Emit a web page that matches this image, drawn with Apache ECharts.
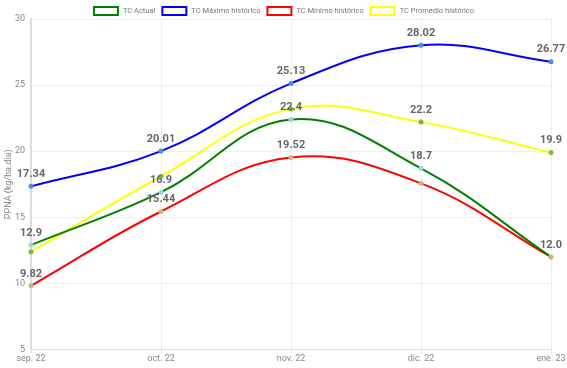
<!DOCTYPE html>
<html><head><meta charset="utf-8">
<script src="https://cdn.jsdelivr.net/npm/echarts@6/dist/echarts.min.js"></script>
<style>html,body{margin:0;padding:0;background:#fff}#c{width:567px;height:368px}</style>
</head><body><div id="c"></div>
<script>
const categories = ['sep. 22','oct. 22','nov. 22','dic. 22','ene. 23'];
const actual   = [12.9, 16.9, 22.4, 18.7, 12.0];
const maximo   = [17.34, 20.01, 25.13, 28.02, 26.77];
const minimo   = [9.82, 15.44, 19.52, 17.57, 12.0];
const promedio = [12.4, 18.1, 23.2, 22.2, 19.9];
const actualLabels   = [true, true, true, true, true];
const maximoLabels   = [true, true, true, true, true];
const minimoLabels   = [true, true, true, false, false];
const promedioLabels = [false, false, false, true, true];
const yTicks = {min: 5, max: 30, interval: 5};

const FONT = 'Roboto, "Open Sans", sans-serif';
const TENSION = 0.4;

// Curve drawn through the library's coordinate conversion (api.coord), cardinal-spline style
function curve(name, vals, lineColor, z) {
  return {
    name, type: 'custom', coordinateSystem: 'cartesian2d', z, silent: true,
    encode: {x: 0, y: 1},
    data: vals.map((v, i) => [i, v]),
    renderItem: function (params, api) {
      const i = params.dataIndex, n = vals.length;
      if (i >= n - 1) return null;
      const P = vals.map((v, k) => api.coord([k, v]));
      function cps(k) {
        const prev = P[k - 1] || P[k], cur = P[k], next = P[k + 1] || P[k];
        const d01 = Math.hypot(cur[0] - prev[0], cur[1] - prev[1]);
        const d12 = Math.hypot(next[0] - cur[0], next[1] - cur[1]);
        let s01 = d01 / (d01 + d12), s12 = d12 / (d01 + d12);
        if (isNaN(s01)) s01 = 0; if (isNaN(s12)) s12 = 0;
        const fa = TENSION * s01, fb = TENSION * s12;
        return {
          prev: [cur[0] - fa * (next[0] - prev[0]), cur[1] - fa * (next[1] - prev[1])],
          next: [cur[0] + fb * (next[0] - prev[0]), cur[1] + fb * (next[1] - prev[1])]
        };
      }
      const a = cps(i), b = cps(i + 1);
      return {
        type: 'bezierCurve',
        shape: {x1: P[i][0], y1: P[i][1], x2: P[i + 1][0], y2: P[i + 1][1],
                cpx1: a.next[0], cpy1: a.next[1], cpx2: b.prev[0], cpy2: b.prev[1]},
        style: {stroke: lineColor, lineWidth: 2, fill: null}
      };
    }
  };
}
function marks(name, vals, flags, decimals, lineColor, markerColor) {
  return {
    name, type: 'line', z: 10, symbol: 'circle', symbolSize: 5, showSymbol: true,
    lineStyle: {color: lineColor, width: 0, opacity: 0},
    itemStyle: {color: markerColor},
    data: vals.map((v, i) => ({value: v, label: {show: flags[i]}})),
    label: {
      position: 'top', distance: 4, fontFamily: FONT, fontSize: 11, fontWeight: 'bold', color: '#666',
      formatter: p => Number(p.value).toFixed(decimals)
    },
    emphasis: {disabled: true}
  };
}
const chart = echarts.init(document.getElementById('c'), null, {renderer: 'canvas'});
chart.setOption({
  animation: false,
  textStyle: {fontFamily: FONT},
  color: ['green', 'blue', 'red', 'yellow'],
  legend: {
    top: 6, left: 'center', padding: 0, itemWidth: 24, itemHeight: 8, itemGap: 6,
    icon: 'rect',
    textStyle: {fontSize: 7.5, color: '#777', fontFamily: FONT},
    data: [
      {name: 'TC Actual', itemStyle: {color: '#fff', borderColor: 'green', borderWidth: 2}},
      {name: 'TC Máximo histórico', itemStyle: {color: '#fff', borderColor: 'blue', borderWidth: 2}},
      {name: 'TC Mínimo histórico', itemStyle: {color: '#fff', borderColor: 'red', borderWidth: 2}},
      {name: 'TC Promedio histórico', itemStyle: {color: '#fff', borderColor: 'yellow', borderWidth: 2}}
    ]
  },
  grid: {left: 31, right: 16, top: 19, bottom: 18.5, containLabel: false, outerBoundsMode: 'none'},
  xAxis: {
    type: 'category', data: categories, boundaryGap: false,
    axisLine: {show: true, lineStyle: {color: '#ddd', width: 1}},
    axisTick: {show: true, length: 4, lineStyle: {color: '#ddd'}},
    axisLabel: {fontSize: 9, color: '#888', margin: 5, fontFamily: FONT},
    splitLine: {show: true, lineStyle: {color: '#eee'}}
  },
  yAxis: {
    type: 'value', min: yTicks.min, max: yTicks.max, interval: yTicks.interval,
    name: 'PPNA (kg/ha.dia)', nameLocation: 'middle', nameGap: 18, nameRotate: 90,
    nameMoveOverlap: false,
    nameTextStyle: {fontSize: 9, color: '#888', fontFamily: FONT},
    axisLine: {show: true, lineStyle: {color: '#ddd', width: 2}},
    axisTick: {show: false},
    axisLabel: {fontSize: 9, color: '#888', margin: 6, fontFamily: FONT},
    splitLine: {show: true, lineStyle: {color: '#eee'}}
  },
  series: [
    curve('TC Promedio histórico', promedio, 'yellow', 3),
    curve('TC Mínimo histórico', minimo, 'red', 4),
    curve('TC Máximo histórico', maximo, 'blue', 5),
    curve('TC Actual', actual, 'green', 6),
    marks('TC Actual', actual, actualLabels, 1, 'green', '#9fd3e3'),
    marks('TC Máximo histórico', maximo, maximoLabels, 2, 'blue', '#4a8fe0'),
    marks('TC Mínimo histórico', minimo, minimoLabels, 2, 'red', '#d2b27a'),
    marks('TC Promedio histórico', promedio, promedioLabels, 1, 'yellow', '#7dbb3a')
  ]
});
</script></body></html>
